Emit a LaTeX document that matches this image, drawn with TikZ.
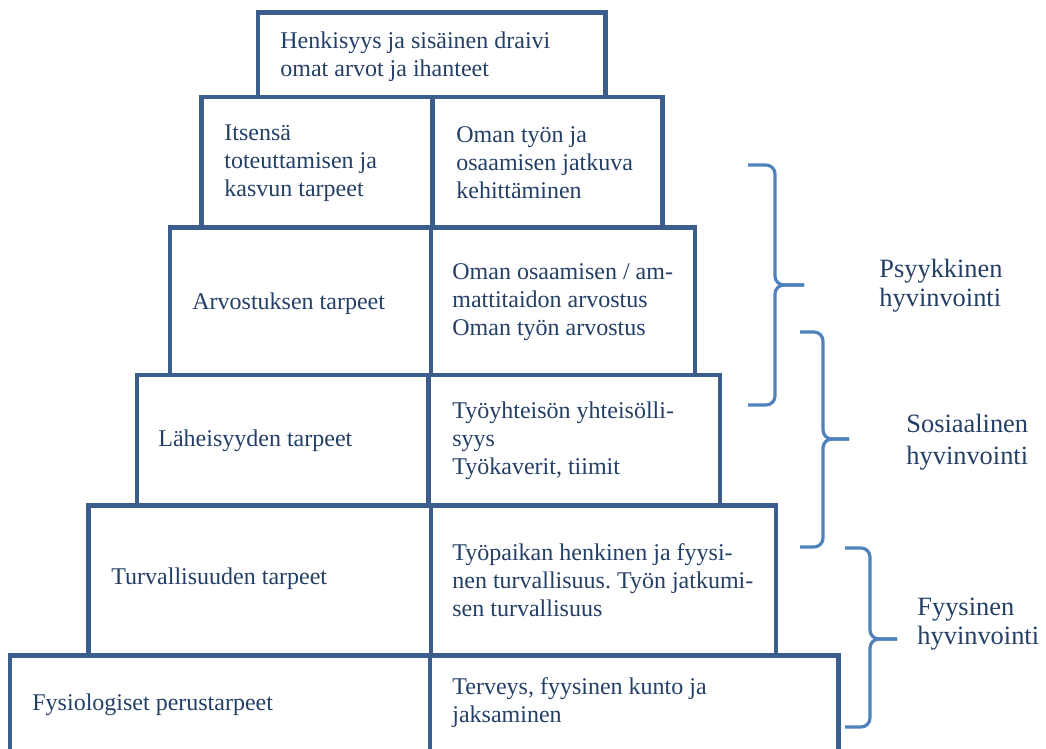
\documentclass[tikz,border=0pt]{standalone}
\usepackage{fontspec}
\setmainfont{Liberation Serif}
\frenchspacing
\definecolor{boxblue}{HTML}{3B5E8C}
\definecolor{txtblue}{HTML}{243F66}
\definecolor{braceblue}{HTML}{4F81BD}

\begin{document}
\begin{tikzpicture}
            [x=0.5pt, y=-0.5pt,
             lvl/.style={draw=boxblue, line width=2.4pt},
             txt/.style={anchor=west, align=left, inner sep=0pt, text=txtblue,
                         font=\fontsize{12}{14}\selectfont},
             sidetxt/.style={txt, font=\fontsize{13.2}{14.5}\selectfont},
             wellbrace/.style={draw=braceblue, line width=1.6pt, rounded corners=4.5pt}]
            \useasboundingbox (0,0) rectangle (1046,749);
            \clip (0,0) rectangle (1046,749);

            % Draw the levels of the pyramid
            \draw[lvl] (258,12.5) rectangle (605.5,97);    % Top level
            \draw[lvl] (201.5,97) rectangle (662.5,227.5);  % Self-actualisation
            \draw[lvl] (432.5,97) -- (432.5,227.5);
            \draw[lvl] (170,227.5) rectangle (695,375);     % Esteem
            \draw[lvl] (431,227.5) -- (431,375);
            \draw[lvl] (137,375) rectangle (720,505.5);     % Belonging
            \draw[lvl] (428.5,375) -- (428.5,505.5);
            \draw[lvl] (88.5,505.5) rectangle (776,655.5);  % Safety
            \draw[lvl] (431,505.5) -- (431,655.5);
            \draw[lvl] (10,655.5) rectangle (838.5,760);    % Physiological
            \draw[lvl] (430,655.5) -- (430,760);

            % Place the texts
            \node[txt] (top) at (280,57) {Henkisyys ja sisäinen draivi\\omat arvot ja ihanteet};
            \node[txt] (selfL) at (224,163) {Itsensä\\toteuttamisen ja\\kasvun tarpeet};
            \node[txt] (selfR) at (456,163) {Oman työn ja\\osaamisen jatkuva\\kehittäminen};
            \node[txt] (esteemL) at (192,304) {Arvostuksen tarpeet};
            \node[txt] (esteemR) at (452,302) {Oman osaamisen / am-\\mattitaidon arvostus\\Oman työn arvostus};
            \node[txt] (loveL) at (158,441) {Läheisyyden tarpeet};
            \node[txt] (loveR) at (452,441) {Työyhteisön yhteisölli-\\syys\\Työkaverit, tiimit};
            \node[txt] (safeL) at (111,579) {Turvallisuuden tarpeet};
            \node[txt] (safeR) at (452,580) {Työpaikan henkinen ja fyysi-\\nen turvallisuus. Työn jatkumi-\\sen turvallisuus};
            \node[txt] (physL) at (32,705) {Fysiologiset perustarpeet};
            \node[txt] (physR) at (452,703) {Terveys, fyysinen kunto ja\\jaksaminen};

            % Brace end points and tips
            \coordinate (psyTop) at (748,165);
            \coordinate (psyTip) at (804,285);
            \coordinate (psyBot) at (748,405);
            \coordinate (socTop) at (800,332);
            \coordinate (socTip) at (849,439);
            \coordinate (socBot) at (800,547);
            \coordinate (fysTop) at (845,548);
            \coordinate (fysTip) at (897,639);
            \coordinate (fysBot) at (845,727);

            % Draw braces
            \draw[wellbrace] (psyTop) -- ++(27,0) |- (psyTip);
            \draw[wellbrace] (psyBot) -- ++(27,0) |- (psyTip);
            \draw[wellbrace] (socTop) -- ++(23,0) |- (socTip);
            \draw[wellbrace] (socBot) -- ++(23,0) |- (socTip);
            \draw[wellbrace] (fysTop) -- ++(25,0) |- (fysTip);
            \draw[wellbrace] (fysBot) -- ++(25,0) |- (fysTip);

            % Brace labels
            \node[sidetxt] (psyLbl) at (879,286) {Psyykkinen\\hyvinvointi};
            \node[sidetxt, font=\fontsize{13.2}{16}\selectfont] (socLbl) at (906,442) {Sosiaalinen\\hyvinvointi};
            \node[sidetxt] (fysLbl) at (917,624) {Fyysinen\\hyvinvointi};
        \end{tikzpicture}
\end{document}
